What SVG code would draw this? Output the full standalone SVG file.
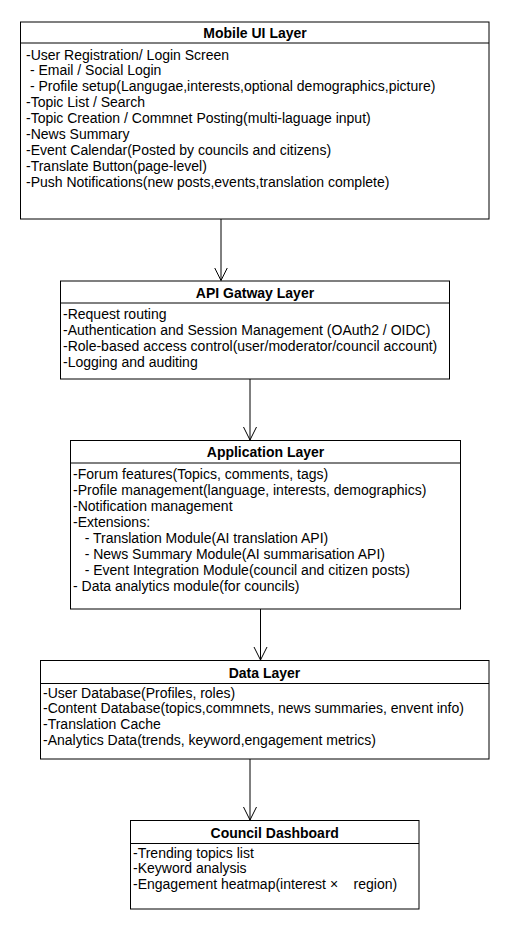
<svg xmlns="http://www.w3.org/2000/svg" width="510" height="930" viewBox="0 0 510 930">
<defs>
<style>
.box{fill:#fff;stroke:#000;stroke-width:1}
.sep{stroke:#000;stroke-width:1}
.title{font-family:"Liberation Sans",Arial,sans-serif;font-size:14px;font-weight:bold;text-anchor:middle;fill:#000}
.body{font-family:"Liberation Sans",Arial,sans-serif;font-size:14px;fill:#000;white-space:pre}
.conn{stroke:#000;stroke-width:1;fill:none}
</style>
<marker id="arr" markerWidth="16" markerHeight="16" refX="13" refY="7" orient="auto" markerUnits="userSpaceOnUse">
<path d="M0,0.5 L13,7 L0,13.5" fill="none" stroke="#000" stroke-width="1"/>
</marker>
</defs>
<rect width="510" height="930" fill="#fff"/>
<g id="connectors">
<line class="conn" x1="221" y1="219" x2="221" y2="280.5" marker-end="url(#arr)"/>
<line class="conn" x1="250" y1="379" x2="250" y2="440" marker-end="url(#arr)"/>
<line class="conn" x1="260.5" y1="609" x2="260.5" y2="660" marker-end="url(#arr)"/>
<line class="conn" x1="250" y1="759" x2="250" y2="820" marker-end="url(#arr)"/>
</g>
<g id="mobile-ui-layer">
<rect class="box" x="20.5" y="22" width="468.5" height="197"/>
<line class="sep" x1="20.5" y1="43" x2="489" y2="43"/>
<text class="title" x="255" y="38">Mobile UI Layer</text>
<text class="body" xml:space="preserve">
<tspan x="26" y="59.5">-User Registration/ Login Screen</tspan>
<tspan x="26" y="75.4"> - Email / Social Login</tspan>
<tspan x="26" y="91.3"> - Profile setup(Langugae,interests,optional demographics,picture)</tspan>
<tspan x="26" y="107.2">-Topic List / Search</tspan>
<tspan x="26" y="123.1">-Topic Creation / Commnet Posting(multi-laguage input)</tspan>
<tspan x="26" y="139">-News Summary</tspan>
<tspan x="26" y="154.9">-Event Calendar(Posted by councils and citizens)</tspan>
<tspan x="26" y="170.8">-Translate Button(page-level)</tspan>
<tspan x="26" y="186.7">-Push Notifications(new posts,events,translation complete)</tspan>
</text>
</g>
<g id="api-gateway-layer">
<rect class="box" x="60.5" y="281" width="389" height="98"/>
<line class="sep" x1="60.5" y1="303" x2="449.5" y2="303"/>
<text class="title" x="255" y="297.5">API Gatway Layer</text>
<text class="body" xml:space="preserve">
<tspan x="63" y="319.3">-Request routing</tspan>
<tspan x="63" y="335.2">-Authentication and Session Management (OAuth2 / OIDC)</tspan>
<tspan x="63" y="351.1">-Role-based access control(user/moderator/council account)</tspan>
<tspan x="63" y="367">-Logging and auditing</tspan>
</text>
</g>
<g id="application-layer">
<rect class="box" x="70.5" y="440.5" width="390" height="168.5"/>
<line class="sep" x1="70.5" y1="463" x2="460.5" y2="463"/>
<text class="title" x="265.5" y="457">Application Layer</text>
<text class="body" xml:space="preserve">
<tspan x="73" y="478.5">-Forum features(Topics, comments, tags)</tspan>
<tspan x="73" y="494.6">-Profile management(language, interests, demographics)</tspan>
<tspan x="73" y="510.7">-Notification management</tspan>
<tspan x="73" y="526.8">-Extensions:</tspan>
<tspan x="73" y="542.9">   - Translation Module(AI translation API)</tspan>
<tspan x="73" y="559">   - News Summary Module(AI summarisation API)</tspan>
<tspan x="73" y="575.1">   - Event Integration Module(council and citizen posts)</tspan>
<tspan x="73" y="591.2">- Data analytics module(for councils)</tspan>
</text>
</g>
<g id="data-layer">
<rect class="box" x="40.5" y="660.5" width="448.5" height="98.5"/>
<line class="sep" x1="40.5" y1="683.5" x2="489" y2="683.5"/>
<text class="title" x="264.5" y="677.5">Data Layer</text>
<text class="body" xml:space="preserve">
<tspan x="43" y="697.5">-User Database(Profiles, roles)</tspan>
<tspan x="43" y="713.4">-Content Database(topics,commnets, news summaries, envent info)</tspan>
<tspan x="43" y="729.3">-Translation Cache</tspan>
<tspan x="43" y="745.2">-Analytics Data(trends, keyword,engagement metrics)</tspan>
</text>
</g>
<g id="council-dashboard">
<rect class="box" x="130.5" y="820.5" width="288.5" height="88.5"/>
<line class="sep" x1="130.5" y1="843.5" x2="419" y2="843.5"/>
<text class="title" x="274.75" y="837.5">Council Dashboard</text>
<text class="body" xml:space="preserve">
<tspan x="133" y="857.5">-Trending topics list</tspan>
<tspan x="133" y="873.4">-Keyword analysis</tspan>
<tspan x="133" y="889.3">-Engagement heatmap(interest ×    region)</tspan>
</text>
</g>
</svg>
